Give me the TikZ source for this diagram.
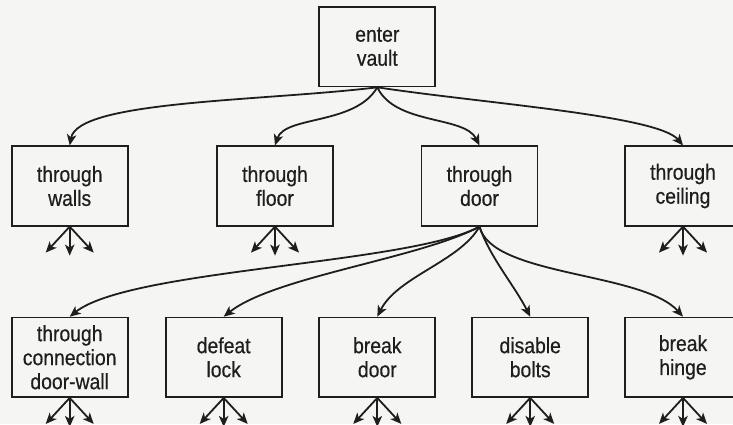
\documentclass[tikz,border=0pt]{standalone}
\usepackage{fontspec}
\setmainfont{Liberation Sans}[FakeStretch=0.88,FakeBold=0.5]
\usetikzlibrary{arrows.meta}
\definecolor{bgcol}{RGB}{245,245,243}
\definecolor{ink}{RGB}{30,30,30}
\begin{document}
\begin{tikzpicture}[x=1pt,y=-1pt,
  box/.style={draw=ink, line width=1.7pt, minimum width=116pt, minimum height=79.5pt,
    inner sep=0pt, align=center, text=ink,
    font=\fontsize{22}{24}\selectfont},
  arr/.style={draw=ink, line width=1.8pt, -{Stealth[length=11pt,width=9.5pt,inset=3pt]}}]
\useasboundingbox (0,0) rectangle (733,424);
\clip (0,0) rectangle (733,424);
\fill[bgcol] (0,0) rectangle (733,424);
% nodes
\node[box] (ev) at (377.3,46.7) {enter\\vault};
\node[box] (tw) at (69.7,186) {through\\walls};
\node[box] (tf) at (275,186) {through\\floor};
\node[box] (td) at (479.5,186) {through\\door};
\node[box] (tc) at (683,186) {through\\ceiling};
\node[box] (cw) at (69.7,357.3) {through\\connection\\door-wall};
\node[box] (dl) at (223.7,357.3) {defeat\\lock};
\node[box] (bd) at (377.3,357.3) {break\\door};
\node[box] (db) at (530.2,357.3) {disable\\bolts};
\node[box] (bh) at (683,357.3) {break\\hinge};
% level 1 connectors
\draw[arr] (ev.south) .. controls +(-115,14) and +(8,-45) .. (tw.north);
\draw[arr] (ev.south) .. controls +(-22,38) and +(10,-30) .. (tf.north);
\draw[arr] (ev.south) .. controls +(18,38) and +(-15,-30) .. (td.north);
\draw[arr] (ev.south) .. controls +(105,16) and +(-25,-30) .. (tc.north);
% level 2 connectors
\draw[arr] (td.south) .. controls +(-70,38) and +(60,-48) .. (cw.north);
\draw[arr] (td.south) .. controls +(-60,32) and +(50,-40) .. (dl.north);
\draw[arr] (td.south) .. controls +(-20,35) and +(20,-40) .. (bd.north);
\draw[arr] (td.south) .. controls +(10,30) and +(-15,-30) .. (db.north);
\draw[arr] (td.south) .. controls +(12,50) and +(-40,-45) .. (bh.north);
% stub arrows
\foreach \n in {tw,tf,tc,cw,dl,bd,db,bh}{
  \draw[arr] (\n.south) -- +(-24,26);
  \draw[arr] (\n.south) -- +(0,29);
  \draw[arr] (\n.south) -- +(24,26);
}
\end{tikzpicture}
\end{document}
